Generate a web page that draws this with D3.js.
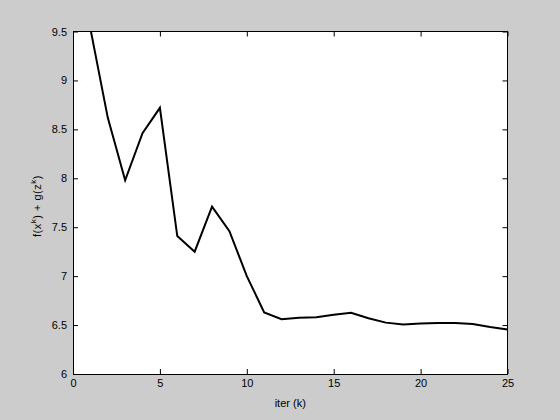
<!DOCTYPE html>
<html><head><meta charset="utf-8">
<script src="https://cdn.jsdelivr.net/npm/d3@7"></script>
<style>
html,body{margin:0;padding:0;background:#cccccc;}
svg{display:block;}
text{font-family:"Liberation Sans",Arial,Helvetica,sans-serif;font-size:11px;fill:#000;}
</style></head><body>
<svg id="c" width="560" height="420"></svg>
<script>
const iters = [1,2,3,4,5,6,7,8,9,10,11,12,13,14,15,16,17,18,19,20,21,22,23,24,25];
const values = [9.53,8.62,7.98,8.46,8.72,7.41,7.25,7.71,7.46,7.0,6.63,6.56,6.575,6.58,6.605,6.625,6.57,6.525,6.505,6.515,6.52,6.52,6.51,6.48,6.455];
const xTicks = [0,5,10,15,20,25];
const yTicks = [6,6.5,7,7.5,8,8.5,9,9.5];

const svg = d3.select("#c");
const L=73, T=31.5, R=507.5, B=374;
const x = d3.scaleLinear().domain([0,25]).range([L,R]);
const y = d3.scaleLinear().domain([6,9.5]).range([B,T]);

svg.append("rect").attr("x",L).attr("y",T).attr("width",R-L).attr("height",B-T).attr("fill","#fff");

svg.append("clipPath").attr("id","clip").append("rect").attr("x",L).attr("y",T).attr("width",R-L).attr("height",B-T);

svg.append("path").datum(iters.map((k,i)=>[k,values[i]]))
  .attr("clip-path","url(#clip)")
  .attr("fill","none").attr("stroke","#000").attr("stroke-width",2).attr("stroke-linejoin","miter")
  .attr("d", d3.line().x(d=>x(d[0])).y(d=>y(d[1])));

const fmt = d => String(d);
const ax = (g)=>{g.select(".domain").remove(); g.selectAll("line").attr("stroke","#000");};
svg.append("g").attr("transform",`translate(0,${B})`)
  .call(d3.axisBottom(x).tickValues(xTicks).tickSizeInner(-5).tickSizeOuter(0).tickPadding(5).tickFormat(fmt))
  .call(ax);
svg.append("g").attr("transform",`translate(0,${T})`)
  .call(d3.axisTop(x).tickValues(xTicks).tickSizeInner(-5).tickSizeOuter(0).tickFormat(""))
  .call(ax);
svg.append("g").attr("transform",`translate(${L},0)`)
  .call(d3.axisLeft(y).tickValues(yTicks).tickSizeInner(-5).tickSizeOuter(0).tickPadding(6).tickFormat(fmt))
  .call(ax);
svg.append("g").attr("transform",`translate(${R},0)`)
  .call(d3.axisRight(y).tickValues(yTicks).tickSizeInner(-5).tickSizeOuter(0).tickFormat(""))
  .call(ax);
svg.selectAll(".tick text").attr("fill","#000").attr("font-size",11).attr("font-family","Liberation Sans, Arial, sans-serif");

svg.append("rect").attr("x",L).attr("y",T).attr("width",R-L).attr("height",B-T)
  .attr("fill","none").attr("stroke","#000").attr("stroke-width",1).attr("shape-rendering","crispEdges");

svg.append("text").attr("x",(L+R)/2).attr("y",407).attr("text-anchor","middle").text("iter (k)");

const yl = svg.append("text").attr("transform",`translate(41,206) rotate(-90)`).attr("text-anchor","middle").attr("letter-spacing",0.5);
yl.append("tspan").text("f(x");
yl.append("tspan").attr("dy",-5).attr("font-size",8).text("k");
yl.append("tspan").attr("dy",5).text(") + g(z");
yl.append("tspan").attr("dy",-5).attr("font-size",8).text("k");
yl.append("tspan").attr("dy",5).text(")");
</script>
</body></html>
